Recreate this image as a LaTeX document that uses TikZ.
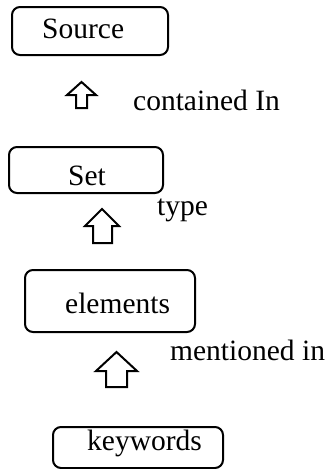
\documentclass[tikz,border=0pt]{standalone}
\usepackage{fontspec}
\setmainfont{Liberation Serif}
\begin{document}
\begin{tikzpicture}[x=1pt,y=-1pt,
  box/.style={draw=black,line width=2pt,rounded corners=8pt,inner sep=0pt},
  txt/.style={anchor=base west,inner sep=0pt,font=\fontsize{29.5}{32}\selectfont},
  blockarrow/.style={draw=black,line width=2pt,fill=white,line join=miter}]
\useasboundingbox (0,0) rectangle (329,469);
% boxes
\node[box,minimum width=156pt,minimum height=48pt] (sourcebox) at (90,31) {};
\node[box,minimum width=154pt,minimum height=46pt] (setbox) at (86,170) {};
\node[box,minimum width=170pt,minimum height=62pt] (elembox) at (110,301) {};
\node[box,minimum width=170pt,minimum height=41pt] (keybox) at (138,447.5) {};
% box texts
\node[txt] (sourcet) at (42,38) {Source};
\node[txt] (sett) at (68,185) {Set};
\node[txt] (elemt) at (65,313) {elements};
\node[txt] (keyt) at (87,450) {keywords};
% block arrows
\draw[blockarrow] (76,108) -- (76,95) -- (67,95) -- (81.5,82) -- (96,95) -- (87,95) -- (87,108) -- cycle;
\draw[blockarrow] (93,243) -- (93,226) -- (85,226) -- (102,209) -- (119,226) -- (112,226) -- (112,243) -- cycle;
\draw[blockarrow] (106,387) -- (106,371) -- (96,371) -- (116.5,352) -- (137,371) -- (127,371) -- (127,387) -- cycle;
% labels
\node[txt] (contained) at (133,110) {contained In};
\node[txt] (type) at (157,215) {type};
\node[txt] (mentioned) at (170,360) {mentioned in};
\end{tikzpicture}
\end{document}
